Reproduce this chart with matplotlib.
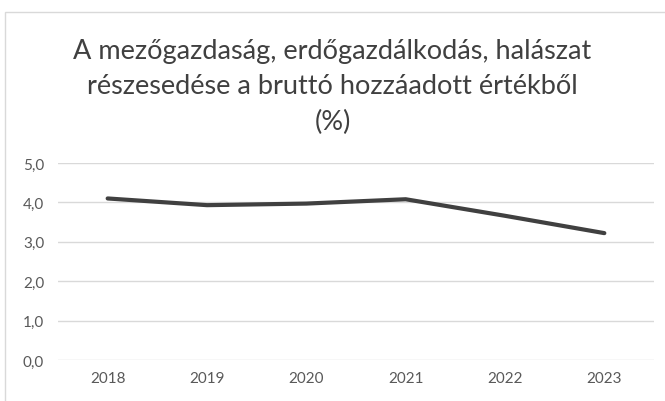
import matplotlib
matplotlib.use("Agg")
import matplotlib.pyplot as plt
from matplotlib.patches import Rectangle

years = ["2018", "2019", "2020", "2021", "2022", "2023"]
values = [4.10, 3.93, 3.97, 4.08, 3.66, 3.22]
yticks = [0, 1, 2, 3, 4, 5]
ytick_labels = ["0,0", "1,0", "2,0", "3,0", "4,0", "5,0"]
title = "A mezőgazdaság, erdőgazdálkodás, halászat\nrészesedése a bruttó hozzáadott értékből\n(%)"

plt.rcParams['font.family'] = ['Lato', 'DejaVu Sans']

W, H = 665, 402
fig = plt.figure(figsize=(W/100, H/100), dpi=100)

# outer chart border
fig.patches.append(Rectangle((5/W, -0.1), 1.1, (H-13)/H + 0.1, transform=fig.transFigure,
                             fill=False, edgecolor="#d9d9d9", linewidth=1))

ax = fig.add_axes([58/W, 1-361/H, (654-58)/W, (361-164)/H])
x = list(range(len(years)))
ax.plot(x, values, color="#404040", linewidth=3, solid_capstyle="round", solid_joinstyle="round")
ax.set_xlim(-0.5, len(years)-0.5)
ax.set_ylim(0, 5)
ax.set_yticks(yticks)
ax.set_yticklabels(ytick_labels)
ax.set_xticks(x)
ax.set_xticklabels(years)
ax.grid(axis="y", color="#d9d9d9", linewidth=1)
ax.set_axisbelow(True)
for s in ax.spines.values():
    s.set_visible(False)
ax.tick_params(axis="both", length=0, labelsize=11, colors="#595959")
ax.tick_params(axis="y", pad=10)
ax.tick_params(axis="x", pad=8)

fig.text(0.5, 1-87/H, title, ha="center", va="center", fontsize=19.5,
         color="#404040", linespacing=1.52)

fig.savefig("out.png", dpi=100)
